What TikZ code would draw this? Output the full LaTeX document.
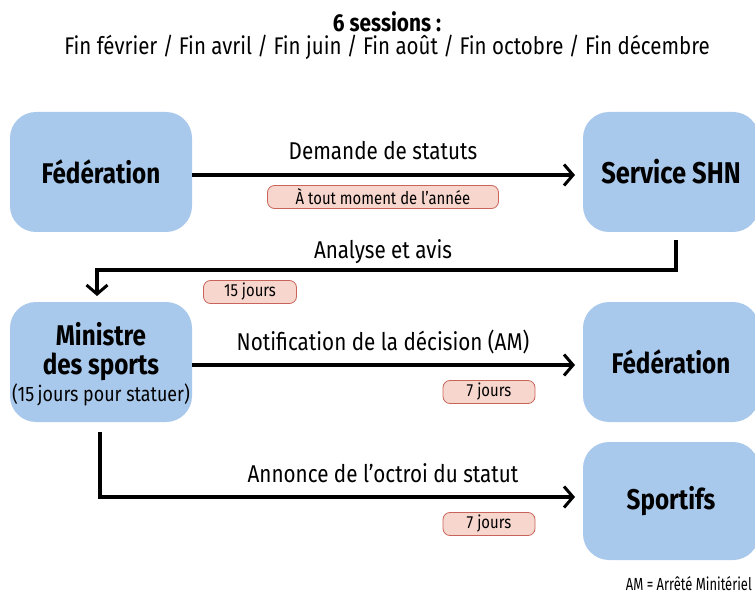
\documentclass[tikz,border=0pt]{standalone}
\usepackage{fontspec}
\setmainfont{Fira Sans}[FakeStretch=0.85]
\newfontfamily\condfont{Fira Sans}[FakeStretch=0.74]
\usetikzlibrary{arrows.meta,positioning,calc}
\definecolor{boxblue}{HTML}{A9C9EC}
\definecolor{tagfill}{HTML}{F7D6CD}
\definecolor{tagdraw}{HTML}{C8645A}
\tikzset{
  bigbox/.style={fill=boxblue, rounded corners=26pt, minimum width=182pt, minimum height=120pt, inner sep=0pt, align=center, font=\fontsize{28.5}{29}\selectfont\bfseries},
  tag/.style={fill=tagfill, draw=tagdraw, line width=0.8pt, rounded corners=7pt, minimum height=23pt, inner sep=0pt, font=\fontsize{17.5}{19}\selectfont},
  lab/.style={font=\fontsize{24.3}{26}\selectfont, inner sep=0pt},
  conn/.style={line width=3.3pt, line join=miter, -{Straight Barb[length=9pt,width=21pt,line width=3pt]}}
}
\begin{document}
\begin{tikzpicture}[x=1pt,y=-1pt]
\useasboundingbox (0,0) rectangle (755,604);
\clip (0,0) rectangle (755,604);
% title
\node[font=\fontsize{24.5}{26}\selectfont\bfseries, inner sep=0pt] (title) at (387,22) {6 sessions :};
\node[font=\fontsize{24.1}{26}\selectfont, inner sep=0pt] (sessions) at (387,47) {Fin février / Fin avril / Fin juin / Fin août / Fin octobre / Fin décembre};
% boxes
\node[bigbox] (fed1) at (101,172) {Fédération};
\node[bigbox, minimum width=176pt, font=\fontsize{30}{30}\selectfont\bfseries] (shn) at (671,172) {Service SHN};
\node[bigbox] (min) at (101,362) {\rule{0pt}{28pt}Ministre\\des sports\\[-2pt]{\fontsize{21}{24}\selectfont\mdseries (15\,jours pour statuer)}};
\node[bigbox, minimum width=176pt] (fed2) at (671,362) {Fédération};
\node[bigbox, minimum width=176pt, minimum height=118pt] (sport) at (671,501) {\rule{0pt}{24pt}Sportifs};
% connector 1
\coordinate (e1) at (575,175);
\draw[conn] (fed1.east |- e1) -- (e1);
\node[lab] (l1) at (383,151) {Demande de statuts};
\node[tag, minimum width=231pt] (t1) at (383,197) {À tout moment de l'année};
% connector 2
\coordinate (s2) at (676,240);
\coordinate (c2) at (97,270);
\coordinate (e2) at (97,296);
\draw[conn] (s2) |- (c2) -- (e2);
\node[lab] (l2) at (383,252) {Analyse et avis};
\node[tag, minimum width=93pt] (t2) at (250,292) {15 jours};
% connector 3
\coordinate (e3) at (575,365);
\draw[conn] (min.east |- e3) -- (e3);
\node[lab] (l3) at (383,342) {Notification de la décision (AM)};
\node[tag, minimum width=92pt] (t3) at (489,392) {7 jours};
% connector 4
\coordinate (s4) at (100,432);
\coordinate (e4) at (575,497);
\draw[conn] (s4) |- (e4);
\node[lab] (l4) at (383,473) {Annonce de l'octroi du statut};
\node[tag, minimum width=92pt] (t4) at (489,524) {7 jours};
% footnote
\node[font=\condfont\fontsize{17.5}{19}\selectfont, inner sep=0pt, anchor=east] (note) at (752,584) {AM = Arrêté Minitériel};
\end{tikzpicture}
\end{document}
